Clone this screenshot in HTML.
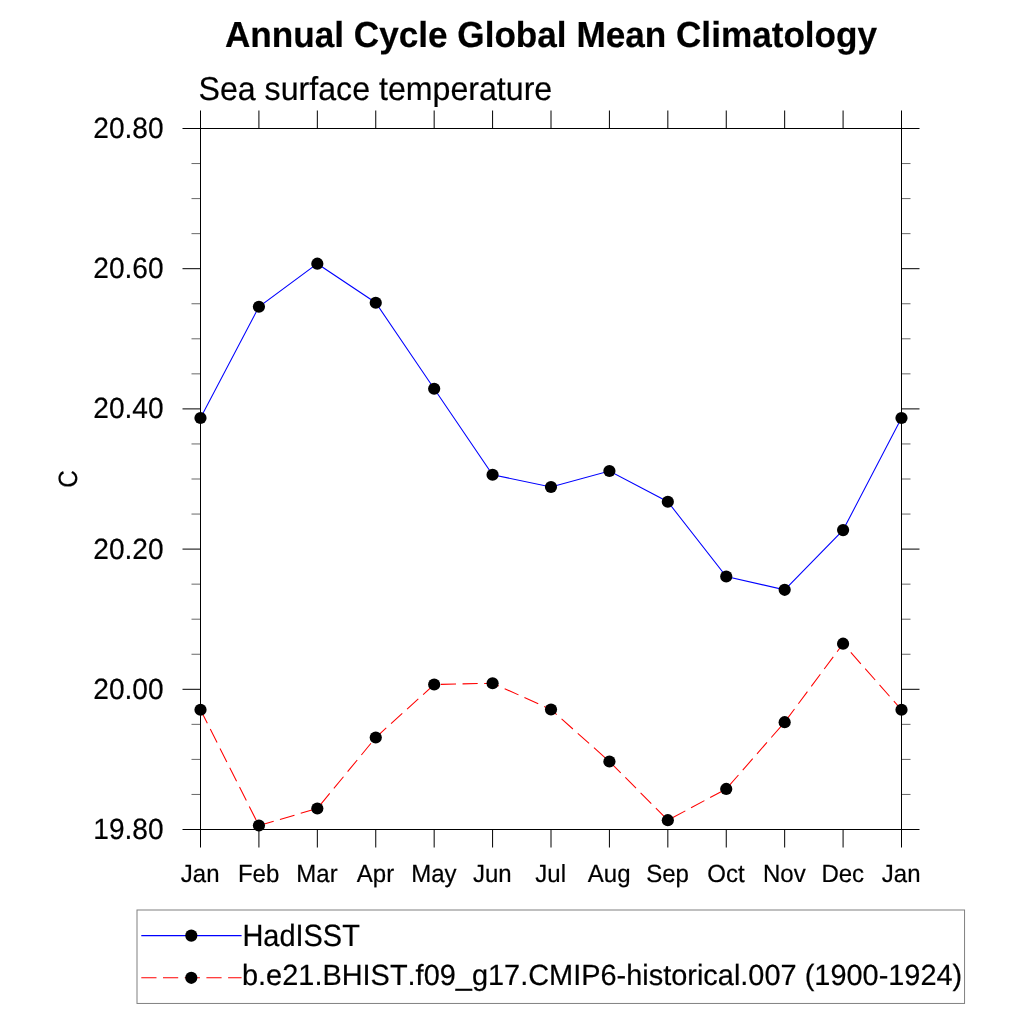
<!DOCTYPE html>
<html lang="en"><head><meta charset="utf-8"><title>Annual Cycle Global Mean Climatology</title>
<style>html,body{margin:0;padding:0;background:#fff;width:1024px;height:1024px;overflow:hidden;}svg{display:block;}text{font-family:"Liberation Sans", sans-serif;fill:#000;stroke:#000;stroke-width:0.2px;font-kerning:none;text-rendering:geometricPrecision;}</style>
</head><body>
<svg width="1024" height="1024" viewBox="0 0 1024 1024">
<rect x="0" y="0" width="1024" height="1024" fill="#ffffff"/>
<text transform="translate(551.00,47.00) scale(1.0000,1.0300)" font-size="35.15" text-anchor="middle" font-weight="bold">Annual Cycle Global Mean Climatology</text>
<text transform="translate(198.50,100.00) scale(1.0000,1.0300)" font-size="32.15">Sea surface temperature</text>
<polyline points="200.50,418.00 258.92,306.75 317.33,263.70 375.75,302.75 434.17,388.75 492.58,474.75 551.00,487.00 609.42,471.00 667.83,501.75 726.25,576.50 784.67,589.80 843.08,530.10 901.50,418.00" fill="none" stroke="#0000ff" stroke-width="1.05"/>
<polyline points="200.50,709.75 258.92,825.50 317.33,808.50 375.75,737.50 434.17,684.50 492.58,683.25 551.00,709.50 609.42,761.50 667.83,820.20 726.25,788.95 784.67,722.20 843.08,643.70 901.50,709.75" fill="none" stroke="#ff0000" stroke-width="1.05" stroke-dasharray="15.15 6.5"/>
<g stroke="#000" stroke-width="1" fill="none">
<rect x="200.5" y="128.5" width="701.0" height="701.0"/>
<path d="M200.50 128.5V110.5M200.50 829.5V847.5M258.92 128.5V110.5M258.92 829.5V847.5M317.33 128.5V110.5M317.33 829.5V847.5M375.75 128.5V110.5M375.75 829.5V847.5M434.17 128.5V110.5M434.17 829.5V847.5M492.58 128.5V110.5M492.58 829.5V847.5M551.00 128.5V110.5M551.00 829.5V847.5M609.42 128.5V110.5M609.42 829.5V847.5M667.83 128.5V110.5M667.83 829.5V847.5M726.25 128.5V110.5M726.25 829.5V847.5M784.67 128.5V110.5M784.67 829.5V847.5M843.08 128.5V110.5M843.08 829.5V847.5M901.50 128.5V110.5M901.50 829.5V847.5M200.5 128.50H182.5M901.5 128.50H919.5M200.5 268.70H182.5M901.5 268.70H919.5M200.5 408.90H182.5M901.5 408.90H919.5M200.5 549.10H182.5M901.5 549.10H919.5M200.5 689.30H182.5M901.5 689.30H919.5M200.5 829.50H182.5M901.5 829.50H919.5"/>
</g>
<path d="M200.5 163.55H191.5M901.5 163.55H910.5M200.5 198.60H191.5M901.5 198.60H910.5M200.5 233.65H191.5M901.5 233.65H910.5M200.5 303.75H191.5M901.5 303.75H910.5M200.5 338.80H191.5M901.5 338.80H910.5M200.5 373.85H191.5M901.5 373.85H910.5M200.5 443.95H191.5M901.5 443.95H910.5M200.5 479.00H191.5M901.5 479.00H910.5M200.5 514.05H191.5M901.5 514.05H910.5M200.5 584.15H191.5M901.5 584.15H910.5M200.5 619.20H191.5M901.5 619.20H910.5M200.5 654.25H191.5M901.5 654.25H910.5M200.5 724.35H191.5M901.5 724.35H910.5M200.5 759.40H191.5M901.5 759.40H910.5M200.5 794.45H191.5M901.5 794.45H910.5" stroke="#000" stroke-width="0.6" fill="none"/>
<g fill="#000">
<circle cx="200.50" cy="418.00" r="6.1"/>
<circle cx="258.92" cy="306.75" r="6.1"/>
<circle cx="317.33" cy="263.70" r="6.1"/>
<circle cx="375.75" cy="302.75" r="6.1"/>
<circle cx="434.17" cy="388.75" r="6.1"/>
<circle cx="492.58" cy="474.75" r="6.1"/>
<circle cx="551.00" cy="487.00" r="6.1"/>
<circle cx="609.42" cy="471.00" r="6.1"/>
<circle cx="667.83" cy="501.75" r="6.1"/>
<circle cx="726.25" cy="576.50" r="6.1"/>
<circle cx="784.67" cy="589.80" r="6.1"/>
<circle cx="843.08" cy="530.10" r="6.1"/>
<circle cx="901.50" cy="418.00" r="6.1"/>
<circle cx="200.50" cy="709.75" r="6.1"/>
<circle cx="258.92" cy="825.50" r="6.1"/>
<circle cx="317.33" cy="808.50" r="6.1"/>
<circle cx="375.75" cy="737.50" r="6.1"/>
<circle cx="434.17" cy="684.50" r="6.1"/>
<circle cx="492.58" cy="683.25" r="6.1"/>
<circle cx="551.00" cy="709.50" r="6.1"/>
<circle cx="609.42" cy="761.50" r="6.1"/>
<circle cx="667.83" cy="820.20" r="6.1"/>
<circle cx="726.25" cy="788.95" r="6.1"/>
<circle cx="784.67" cy="722.20" r="6.1"/>
<circle cx="843.08" cy="643.70" r="6.1"/>
<circle cx="901.50" cy="709.75" r="6.1"/>
</g>
<text transform="translate(163.60,138.00) scale(1.0000,1.0400)" font-size="28.1" text-anchor="end">20.80</text>
<text transform="translate(163.60,278.00) scale(1.0000,1.0400)" font-size="28.1" text-anchor="end">20.60</text>
<text transform="translate(163.60,418.00) scale(1.0000,1.0400)" font-size="28.1" text-anchor="end">20.40</text>
<text transform="translate(163.60,559.00) scale(1.0000,1.0400)" font-size="28.1" text-anchor="end">20.20</text>
<text transform="translate(163.60,699.00) scale(1.0000,1.0400)" font-size="28.1" text-anchor="end">20.00</text>
<text transform="translate(163.60,839.00) scale(1.0000,1.0400)" font-size="28.1" text-anchor="end">19.80</text>
<text transform="translate(200.20,882.00) scale(1.0000,1.0350)" font-size="24" text-anchor="middle">Jan</text>
<text transform="translate(258.62,882.00) scale(1.0000,1.0350)" font-size="24" text-anchor="middle">Feb</text>
<text transform="translate(317.03,882.00) scale(1.0000,1.0350)" font-size="24" text-anchor="middle">Mar</text>
<text transform="translate(375.45,882.00) scale(1.0000,1.0350)" font-size="24" text-anchor="middle">Apr</text>
<text transform="translate(433.87,882.00) scale(1.0000,1.0350)" font-size="24" text-anchor="middle">May</text>
<text transform="translate(492.28,882.00) scale(1.0000,1.0350)" font-size="24" text-anchor="middle">Jun</text>
<text transform="translate(550.70,882.00) scale(1.0000,1.0350)" font-size="24" text-anchor="middle">Jul</text>
<text transform="translate(609.12,882.00) scale(1.0000,1.0350)" font-size="24" text-anchor="middle">Aug</text>
<text transform="translate(667.53,882.00) scale(1.0000,1.0350)" font-size="24" text-anchor="middle">Sep</text>
<text transform="translate(725.95,882.00) scale(1.0000,1.0350)" font-size="24" text-anchor="middle">Oct</text>
<text transform="translate(784.37,882.00) scale(1.0000,1.0350)" font-size="24" text-anchor="middle">Nov</text>
<text transform="translate(842.78,882.00) scale(1.0000,1.0350)" font-size="24" text-anchor="middle">Dec</text>
<text transform="translate(901.20,882.00) scale(1.0000,1.0350)" font-size="24" text-anchor="middle">Jan</text>
<text transform="translate(77.00,479.00) rotate(-90) scale(1.0000,1.0900)" font-size="24.3" text-anchor="middle">C</text>
<rect x="137" y="910" width="827.55" height="93.45" fill="#fff" stroke="#808080" stroke-width="1"/>
<line x1="141.3" y1="935.6" x2="241.6" y2="935.6" stroke="#0000ff" stroke-width="1.05"/>
<line x1="141.3" y1="977.8" x2="241.6" y2="977.8" stroke="#ff0000" stroke-width="1.05" stroke-dasharray="15.2 6.5"/>
<circle cx="191.3" cy="935.6" r="6.1" fill="#000"/>
<circle cx="191.3" cy="977.8" r="6.1" fill="#000"/>
<text transform="translate(242.40,946.00) scale(1.0000,1.0600)" font-size="28.95">HadISST</text>
<text transform="translate(242.00,985.00) scale(1.0000,1.0100)" font-size="28.93">b.e21.BHIST.f09_g17.CMIP6-historical.007 (1900-1924)</text>
</svg>
</body></html>
